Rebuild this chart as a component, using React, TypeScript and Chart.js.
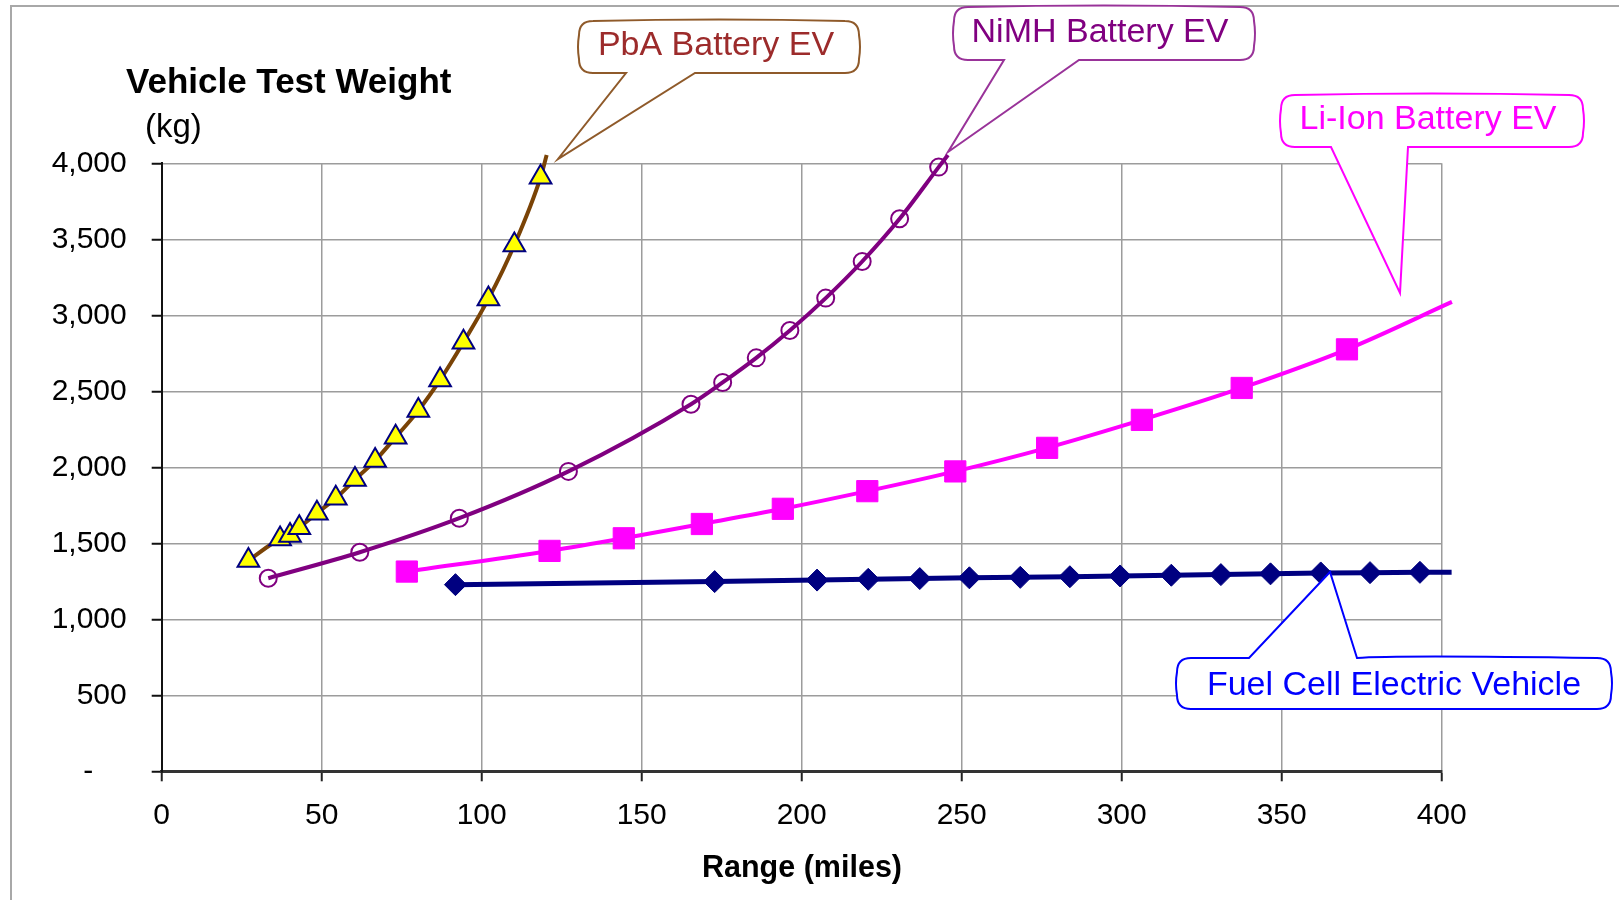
import React, { useEffect, useRef } from 'react';
import { Chart, registerables } from 'chart.js';

Chart.register(...registerables);

const FONT = '"Liberation Sans", Arial, Helvetica, sans-serif';

// ---- data (range in miles, vehicle test weight in kg) ----
const pbaRange = [27.1, 37.0, 40.1, 43.0, 48.5, 54.4, 60.4, 66.7, 73.1, 80.2, 87.0, 94.3, 102.1, 110.2, 118.4];
const pbaWeight = [1387, 1529, 1551, 1602, 1698, 1796, 1919, 2044, 2198, 2373, 2575, 2823, 3108, 3463, 3908];
const pbaLineEnd = [120.3, 4055];

const nimhRange = [33.3, 61.9, 93.0, 127.1, 165.4, 175.3, 185.8, 196.3, 207.5, 218.9, 230.6, 242.8];
const nimhWeight = [1270, 1441, 1665, 1973, 2415, 2558, 2720, 2900, 3113, 3354, 3635, 3975];
const nimhLineEnd = [245.7, 4055];

const liionRange = [76.6, 121.2, 144.4, 168.8, 194.1, 220.5, 248.0, 276.7, 306.3, 337.5, 370.4];
const liionWeight = [1314, 1450, 1533, 1627, 1727, 1843, 1973, 2128, 2312, 2522, 2776];
const liionLineEnd = [403.2, 3088];

const fcRange = [91.8, 172.8, 204.8, 220.8, 236.9, 252.4, 268.3, 283.8, 299.5, 315.5, 331.0, 346.5, 362.2, 377.6, 393.2];
const fcWeight = [1228, 1248, 1258, 1263, 1268, 1273, 1276, 1280, 1285, 1290, 1294, 1299, 1305, 1307, 1309];
const fcLineEnd = [403.1, 1310];

const xTickStep = 50;
const yTickStep = 500;
const xMax = 400;
const yMax = 4000;

const yAxisTitle = 'Vehicle Test Weight';
const yAxisUnit = '(kg)';
const xAxisTitle = 'Range (miles)';

const calloutLabels = ['PbA Battery EV', 'NiMH Battery EV', 'Li-Ion Battery EV', 'Fuel Cell Electric Vehicle'];

function toPoints(xs: number[], ys: number[], end: number[]) {
  const pts = xs.map((x, i) => ({ x, y: ys[i] }));
  pts.push({ x: end[0], y: end[1] });
  return pts;
}

function radii(n: number, r: number) {
  const arr: number[] = [];
  for (let i = 0; i < n; i++) arr.push(r);
  arr.push(0);
  return arr;
}

type Callout = {
  text: string;
  l: number; t: number; r: number; b: number;
  side: 'top' | 'bottom';
  pa: number; pb: number;
  tipX: number; tipY: number;
  stroke: string; color: string;
  tx: number; ty: number;
};

function drawCallout(ctx: CanvasRenderingContext2D, c: Callout) {
  const R = 14;
  const { l, t, r, b } = c;
  ctx.save();
  ctx.beginPath();
  ctx.moveTo(l + R, t);
  if (c.side === 'top') {
    ctx.lineTo(c.pa, t);
    ctx.lineTo(c.tipX, c.tipY);
    ctx.lineTo(c.pb, t);
  }
  ctx.quadraticCurveTo((l + r) / 2, t - 3, r - R, t);
  ctx.quadraticCurveTo(r, t, r, t + R);
  ctx.quadraticCurveTo(r + 2, (t + b) / 2, r, b - R);
  ctx.quadraticCurveTo(r, b, r - R, b);
  if (c.side === 'bottom') {
    ctx.lineTo(c.pb, b);
    ctx.lineTo(c.tipX, c.tipY);
    ctx.lineTo(c.pa, b);
  }
  ctx.lineTo(l + R, b);
  ctx.quadraticCurveTo(l, b, l, b - R);
  ctx.quadraticCurveTo(l - 2, (t + b) / 2, l, t + R);
  ctx.quadraticCurveTo(l, t, l + R, t);
  ctx.closePath();
  ctx.fillStyle = '#ffffff';
  ctx.fill();
  ctx.strokeStyle = c.stroke;
  ctx.lineWidth = 2;
  ctx.stroke();
  ctx.fillStyle = c.color;
  ctx.font = `34px ${FONT}`;
  ctx.textAlign = 'center';
  ctx.textBaseline = 'alphabetic';
  ctx.fillText(c.text, c.tx, c.ty);
  ctx.restore();
}

const callouts: Callout[] = [
  { text: calloutLabels[0], l: 579, t: 21, r: 859, b: 73, side: 'bottom', pa: 626, pb: 695, tipX: 558, tipY: 159, stroke: '#8f5a2a', color: '#9c2b2b', tx: 716, ty: 55 },
  { text: calloutLabels[1], l: 954, t: 7, r: 1254, b: 60, side: 'bottom', pa: 1004, pb: 1079, tipX: 948, tipY: 152, stroke: '#993399', color: '#800080', tx: 1100, ty: 42 },
  { text: calloutLabels[2], l: 1281, t: 95, r: 1583, b: 147, side: 'bottom', pa: 1331, pb: 1408, tipX: 1400, tipY: 293, stroke: '#ff00ff', color: '#ff00ff', tx: 1428, ty: 129 },
  { text: calloutLabels[3], l: 1177, t: 658, r: 1611, b: 709, side: 'top', pa: 1249, pb: 1357, tipX: 1330, tipY: 572, stroke: '#0000ff', color: '#0000ff', tx: 1394, ty: 695 },
];

const decorations = {
  id: 'decorations',
  beforeDraw(chart: any) {
    const ctx: CanvasRenderingContext2D = chart.ctx;
    ctx.save();
    ctx.fillStyle = '#ffffff';
    ctx.fillRect(0, 0, chart.width, chart.height);
    ctx.strokeStyle = '#a8a8a8';
    ctx.lineWidth = 2;
    ctx.beginPath();
    ctx.moveTo(11, chart.height + 5);
    ctx.lineTo(11, 6);
    ctx.lineTo(chart.width + 5, 6);
    ctx.stroke();
    ctx.restore();
  },
  afterDraw(chart: any) {
    const ctx: CanvasRenderingContext2D = chart.ctx;
    ctx.save();
    ctx.fillStyle = '#000';
    ctx.textBaseline = 'alphabetic';
    ctx.textAlign = 'left';
    ctx.font = `bold 35px ${FONT}`;
    ctx.fillText(yAxisTitle, 126, 93);
    ctx.font = `33px ${FONT}`;
    ctx.fillText(yAxisUnit, 145, 137);
    ctx.font = `bold 30.5px ${FONT}`;
    ctx.textAlign = 'center';
    ctx.fillText(xAxisTitle, 802, 877);
    ctx.restore();
    callouts.forEach((c) => drawCallout(ctx, c));
  },
};

export default function App() {
  const ref = useRef<HTMLCanvasElement | null>(null);

  useEffect(() => {
    if (!ref.current) return;
    const chart = new Chart(ref.current, {
      type: 'scatter',
      data: {
        datasets: [
          {
            label: 'Fuel Cell Electric Vehicle',
            data: toPoints(fcRange, fcWeight, fcLineEnd),
            showLine: true,
            borderColor: '#000080',
            borderWidth: 5,
            pointStyle: 'rectRot',
            pointRadius: radii(fcRange.length, 11),
            pointBackgroundColor: '#000080',
            pointBorderColor: '#000080',
            pointBorderWidth: 1,
            clip: false,
          } as any,
          {
            label: 'Li-Ion Battery EV',
            data: toPoints(liionRange, liionWeight, liionLineEnd),
            showLine: true,
            borderColor: '#ff00ff',
            borderWidth: 4,
            pointStyle: 'rect',
            pointRadius: radii(liionRange.length, 15),
            pointBackgroundColor: '#ff00ff',
            pointBorderColor: '#ff00ff',
            pointBorderWidth: 1,
            cubicInterpolationMode: 'monotone',
            clip: false,
          } as any,
          {
            label: 'NiMH Battery EV',
            data: toPoints(nimhRange, nimhWeight, nimhLineEnd),
            showLine: true,
            borderColor: '#800080',
            borderWidth: 4,
            pointStyle: 'circle',
            pointRadius: radii(nimhRange.length, 8.5),
            pointBackgroundColor: 'rgba(0,0,0,0)',
            pointBorderColor: '#800080',
            pointBorderWidth: 2,
            cubicInterpolationMode: 'monotone',
            clip: false,
          } as any,
          {
            label: 'PbA Battery EV',
            data: toPoints(pbaRange, pbaWeight, pbaLineEnd),
            showLine: true,
            borderColor: '#7a4306',
            borderWidth: 4,
            pointStyle: 'triangle',
            pointRadius: radii(pbaRange.length, 12.5),
            pointBackgroundColor: '#ffff00',
            pointBorderColor: '#000080',
            pointBorderWidth: 2,
            cubicInterpolationMode: 'monotone',
            clip: false,
          } as any,
        ],
      },
      options: {
        animation: false,
        responsive: false,
        events: [],
        layout: { padding: { top: 163.3, right: 177.3, left: 0, bottom: 0 } },
        plugins: { legend: { display: false }, tooltip: { enabled: false } },
        scales: {
          x: {
            type: 'linear',
            min: 0,
            max: xMax,
            afterFit: (s: any) => { s.height = 128.7; },
            ticks: {
              stepSize: xTickStep,
              autoSkip: false,
              maxRotation: 0,
              padding: 16,
              color: '#000',
              font: { family: FONT, size: 30 },
            },
            grid: { color: '#9c9c9c', lineWidth: 1.5, tickLength: 10, tickColor: '#222', tickWidth: 2 },
            border: { display: true, color: '#333', width: 3 },
          },
          y: {
            type: 'linear',
            min: 0,
            max: yMax,
            afterFit: (s: any) => { s.width = 161.7; },
            ticks: {
              stepSize: yTickStep,
              autoSkip: false,
              padding: 25,
              color: '#000',
              font: { family: FONT, size: 30 },
              callback: (v: any) => (Number(v) === 0 ? '-    ' : Number(v).toLocaleString('en-US')),
            },
            grid: { color: '#9c9c9c', lineWidth: 1.5, tickLength: 10, tickColor: '#111', tickWidth: 2 },
            border: { display: true, color: '#111', width: 2 },
          },
        },
      } as any,
      plugins: [decorations],
    });
    return () => chart.destroy();
  }, []);

  return (
    <div style={{ position: 'absolute', left: 0, top: 0, width: 1619, height: 900, background: '#fff' }}>
      <canvas ref={ref} width={1619} height={900} style={{ display: 'block', width: 1619, height: 900 }} />
    </div>
  );
}
